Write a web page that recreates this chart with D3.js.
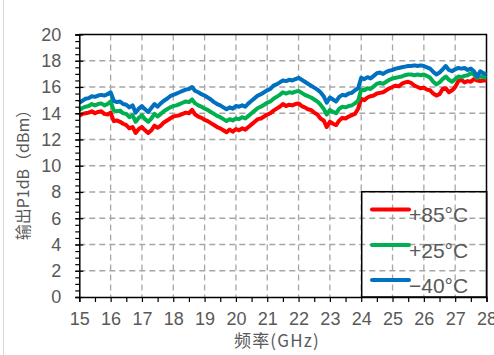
<!DOCTYPE html>
<html>
<head>
<meta charset="utf-8">
<script src="https://cdn.jsdelivr.net/npm/d3@7"></script>
<style>
  html, body { margin: 0; padding: 0; background: #fff; }
  svg { display: block; }
</style>
</head>
<body>
<svg id="chart" width="494" height="355"></svg>
<script>
// Frequency sweep, 15–28 GHz in 0.1 GHz steps
const freqGHz = d3.range(0, 131).map(i => +(15 + i * 0.1).toFixed(1));

// Output P1dB (dBm) at +85 °C
const p1dbHot = [
  13.8, 13.95, 14.0, 14.05, 14.15, 14.0, 14.1, 14.15, 13.95, 13.9,
  14.05, 13.4, 13.45, 13.35, 13.2, 13.1, 12.85, 12.95, 12.5, 12.8,
  12.95, 12.7, 12.5, 12.7, 13.05, 12.9, 13.05, 13.3, 13.45, 13.6,
  13.75, 13.8, 13.85, 13.95, 14.05, 14.0, 14.25, 13.9, 13.75, 13.65,
  13.5, 13.4, 13.25, 13.1, 12.95, 12.85, 12.7, 12.55, 12.75, 12.6,
  12.8, 12.7, 12.85, 12.75, 12.95, 13.15, 13.35, 13.55, 13.6, 13.75,
  13.9, 14.0, 14.2, 14.35, 14.5, 14.7, 14.55, 14.65, 14.6, 14.7,
  14.75, 14.55, 14.45, 14.3, 14.25, 14.05, 13.9, 13.6, 13.45, 12.95,
  13.35, 13.2, 13.1, 13.45, 13.65, 13.6, 13.75, 13.85, 13.95, 14.35,
  15.1, 15.0, 15.2, 15.3, 15.35, 15.5, 15.55, 15.6, 15.75, 15.9,
  16.0, 16.1, 16.05, 16.25, 16.35, 16.4, 16.3, 16.1, 16.0, 15.9,
  15.95, 15.8, 15.75, 15.5, 15.35, 15.45, 15.85, 15.9, 15.6, 15.75,
  16.0, 16.45, 16.55, 16.35, 16.45, 16.4, 16.6, 16.5, 16.45, 16.5,
  16.5
];

// Output P1dB (dBm) at +25 °C
const p1dbRoom = [
  14.25, 14.4, 14.5, 14.55, 14.7, 14.6, 14.7, 14.75, 14.6, 14.7,
  14.9, 14.2, 14.15, 14.2, 14.0, 13.95, 13.7, 13.85, 13.35, 13.65,
  13.85, 13.55, 13.35, 13.6, 13.95, 13.75, 13.95, 14.15, 14.3, 14.45,
  14.55, 14.6, 14.7, 14.8, 14.9, 14.85, 15.05, 14.75, 14.6, 14.5,
  14.35, 14.25, 14.1, 13.95, 13.8, 13.7, 13.55, 13.4, 13.55, 13.45,
  13.6, 13.55, 13.7, 13.6, 13.8, 14.0, 14.2, 14.4, 14.5, 14.65,
  14.8, 14.9, 15.1, 15.25, 15.4, 15.6, 15.5, 15.6, 15.55, 15.65,
  15.7, 15.55, 15.4, 15.3, 15.2, 15.05, 14.9, 14.65, 14.35, 13.9,
  14.25, 14.1, 14.0, 14.35, 14.5, 14.45, 14.55, 14.6, 14.75, 14.95,
  15.8, 15.75, 15.9, 15.85, 16.05, 16.25, 16.3, 16.25, 16.4, 16.55,
  16.65, 16.7, 16.75, 16.8, 16.9, 16.95, 16.95, 16.9, 16.95, 16.9,
  16.95, 16.85, 16.7, 16.4, 16.2, 16.35, 16.6, 16.8, 16.55, 16.4,
  16.6, 16.8, 16.75, 16.85, 16.9, 17.05, 16.95, 16.7, 16.8, 16.75,
  16.7
];

// Output P1dB (dBm) at -40 °C
const p1dbCold = [
  14.8, 14.95, 15.1, 15.15, 15.3, 15.25, 15.35, 15.4, 15.35, 15.45,
  15.6, 14.95, 14.85, 14.9, 14.7, 14.65, 14.45, 14.6, 14.05, 14.35,
  14.55, 14.3, 14.1, 14.4, 14.7, 14.5, 14.75, 14.95, 15.1, 15.3,
  15.4, 15.5, 15.6, 15.7, 15.8, 15.85, 16.0, 15.7, 15.6, 15.45,
  15.35, 15.2, 15.05, 14.85, 14.7, 14.6, 14.45, 14.3, 14.45, 14.35,
  14.55, 14.5, 14.6, 14.5, 14.75, 14.95, 15.15, 15.35, 15.45, 15.6,
  15.75, 15.85, 16.1, 16.2, 16.35, 16.5, 16.45, 16.55, 16.5, 16.6,
  16.7, 16.55, 16.4, 16.25, 16.1, 15.95, 15.8, 15.6, 15.3, 14.8,
  15.2, 15.05, 14.9, 15.25, 15.4, 15.35, 15.5, 15.55, 15.75, 15.9,
  16.7, 16.6, 16.75, 16.65, 16.85, 17.05, 17.1, 17.0, 17.15, 17.25,
  17.3, 17.4, 17.45, 17.5, 17.55, 17.6, 17.6, 17.65, 17.6, 17.65,
  17.6, 17.5, 17.4, 17.15, 16.95, 17.1, 17.35, 17.6, 17.3, 17.2,
  17.35, 17.45, 17.4, 17.45, 17.3, 17.4, 17.2, 16.8, 17.2, 17.05,
  16.95
];

const seriesNames = ["+85°C", "+25°C", "\u221240°C"];
const seriesColors = ["#FF0000", "#00B050", "#0070C0"];
const seriesValues = [p1dbHot, p1dbRoom, p1dbCold];

const xTicks = d3.range(15, 29);          // 15 … 28 GHz
const yTicks = d3.range(0, 21, 2);         // 0 … 20 dBm

const svg = d3.select("#chart");
const textColor = "#595959";
const tickFont = "'Liberation Sans', Arial, sans-serif";
const cjkFont = "'Noto Sans CJK SC', 'Liberation Sans', sans-serif";

// chart area frame
svg.append("rect")
  .attr("x", 3.5).attr("y", -1)
  .attr("width", 500).attr("height", 360)
  .attr("fill", "#fff").attr("stroke", "#d9d9d9");

const x = d3.scaleLinear().domain([15, 28]).range([79.3, 486.5]);
const y = d3.scaleLinear().domain([0, 20]).range([297, 34.5]);

// dashed gridlines
const grid = svg.append("g")
  .attr("stroke", "#a6a6a6").attr("stroke-width", 1.3)
  .attr("stroke-dasharray", "6,4");
grid.selectAll("line.v").data(xTicks.slice(1, -1)).join("line")
  .attr("x1", d => x(d)).attr("x2", d => x(d))
  .attr("y1", y(20)).attr("y2", y(0));
grid.selectAll("line.h").data(yTicks.slice(1, -1)).join("line")
  .attr("x1", x(15)).attr("x2", x(28))
  .attr("y1", d => y(d)).attr("y2", d => y(d));

// top and right frame edges
svg.append("path")
  .attr("d", `M${x(15)},${y(20)}H${x(28)}V${y(0)}`)
  .attr("fill", "none").attr("stroke", "#000").attr("stroke-width", 1.5);

// data lines
const line = d3.line()
  .x((d, i) => x(freqGHz[i]))
  .y(d => y(d));
svg.append("g").selectAll("path").data(seriesValues).join("path")
  .attr("d", d => line(d))
  .attr("fill", "none")
  .attr("stroke", (d, i) => seriesColors[i])
  .attr("stroke-width", 4)
  .attr("stroke-linejoin", "round");

// y axis: minor ticks every 0.5 dBm, labels every 2
const yMinor = svg.append("g")
  .attr("transform", `translate(${x(15)},0)`)
  .call(d3.axisLeft(y).tickValues(d3.range(0, 20.01, 0.5)).tickSize(4).tickFormat(""));
yMinor.select(".domain").attr("stroke", "#000").attr("stroke-width", 1.5);
yMinor.selectAll(".tick line").attr("stroke", "#000").attr("stroke-width", 1.2);

const yMajor = svg.append("g")
  .attr("transform", `translate(${x(15)},0)`)
  .call(d3.axisLeft(y).tickValues(yTicks).tickSize(4).tickPadding(14));
yMajor.select(".domain").remove();
yMajor.selectAll(".tick line").attr("stroke", "#000").attr("x2", 4).attr("x1", -4).attr("stroke-width", 1.2);
yMajor.selectAll(".tick text")
  .attr("fill", textColor).attr("font-family", tickFont).attr("font-size", 18);

// x axis: ticks every 0.5 GHz, labels every 1
const xMinor = svg.append("g")
  .attr("transform", `translate(0,${y(0)})`)
  .call(d3.axisBottom(x).tickValues(d3.range(15, 28.01, 0.5)).tickSize(5).tickFormat(""));
xMinor.select(".domain").attr("stroke", "#000").attr("stroke-width", 1.5);
xMinor.selectAll(".tick line").attr("stroke", "#000").attr("stroke-width", 1.2);

const xMajor = svg.append("g")
  .attr("transform", `translate(0,${y(0)})`)
  .call(d3.axisBottom(x).tickValues(xTicks).tickSize(0).tickPadding(15));
xMajor.select(".domain").remove();
xMajor.selectAll(".tick text")
  .attr("fill", textColor).attr("font-family", tickFont).attr("font-size", 18);

// axis titles
svg.append("text")
  .attr("x", 277).attr("y", 347)
  .attr("text-anchor", "middle")
  .attr("fill", textColor).attr("font-family", cjkFont).attr("font-size", 17)
  .attr("letter-spacing", 1.2)
  .text("频率(GHz)");

svg.append("text")
  .attr("transform", "translate(29,171) rotate(-90)")
  .attr("text-anchor", "middle")
  .attr("fill", textColor).attr("font-family", cjkFont).attr("font-size", 16)
  .text("输出P1dB（dBm）");

// legend
const legend = svg.append("g");
legend.append("rect")
  .attr("x", 361.7).attr("y", 191.7)
  .attr("width", 125).attr("height", 105.3)
  .attr("fill", "none").attr("stroke", "#000").attr("stroke-width", 1.5);
const rows = [209.5, 245, 280];
seriesNames.forEach((name, i) => {
  legend.append("line")
    .attr("x1", 372).attr("x2", 409)
    .attr("y1", rows[i]).attr("y2", rows[i])
    .attr("stroke", seriesColors[i]).attr("stroke-width", 4)
    .attr("stroke-linecap", "round");
  legend.append("text")
    .attr("x", 409).attr("y", rows[i] + 12.5)
    .attr("fill", textColor).attr("font-family", tickFont).attr("font-size", 21)
    .text(name);
});
</script>
</body>
</html>
